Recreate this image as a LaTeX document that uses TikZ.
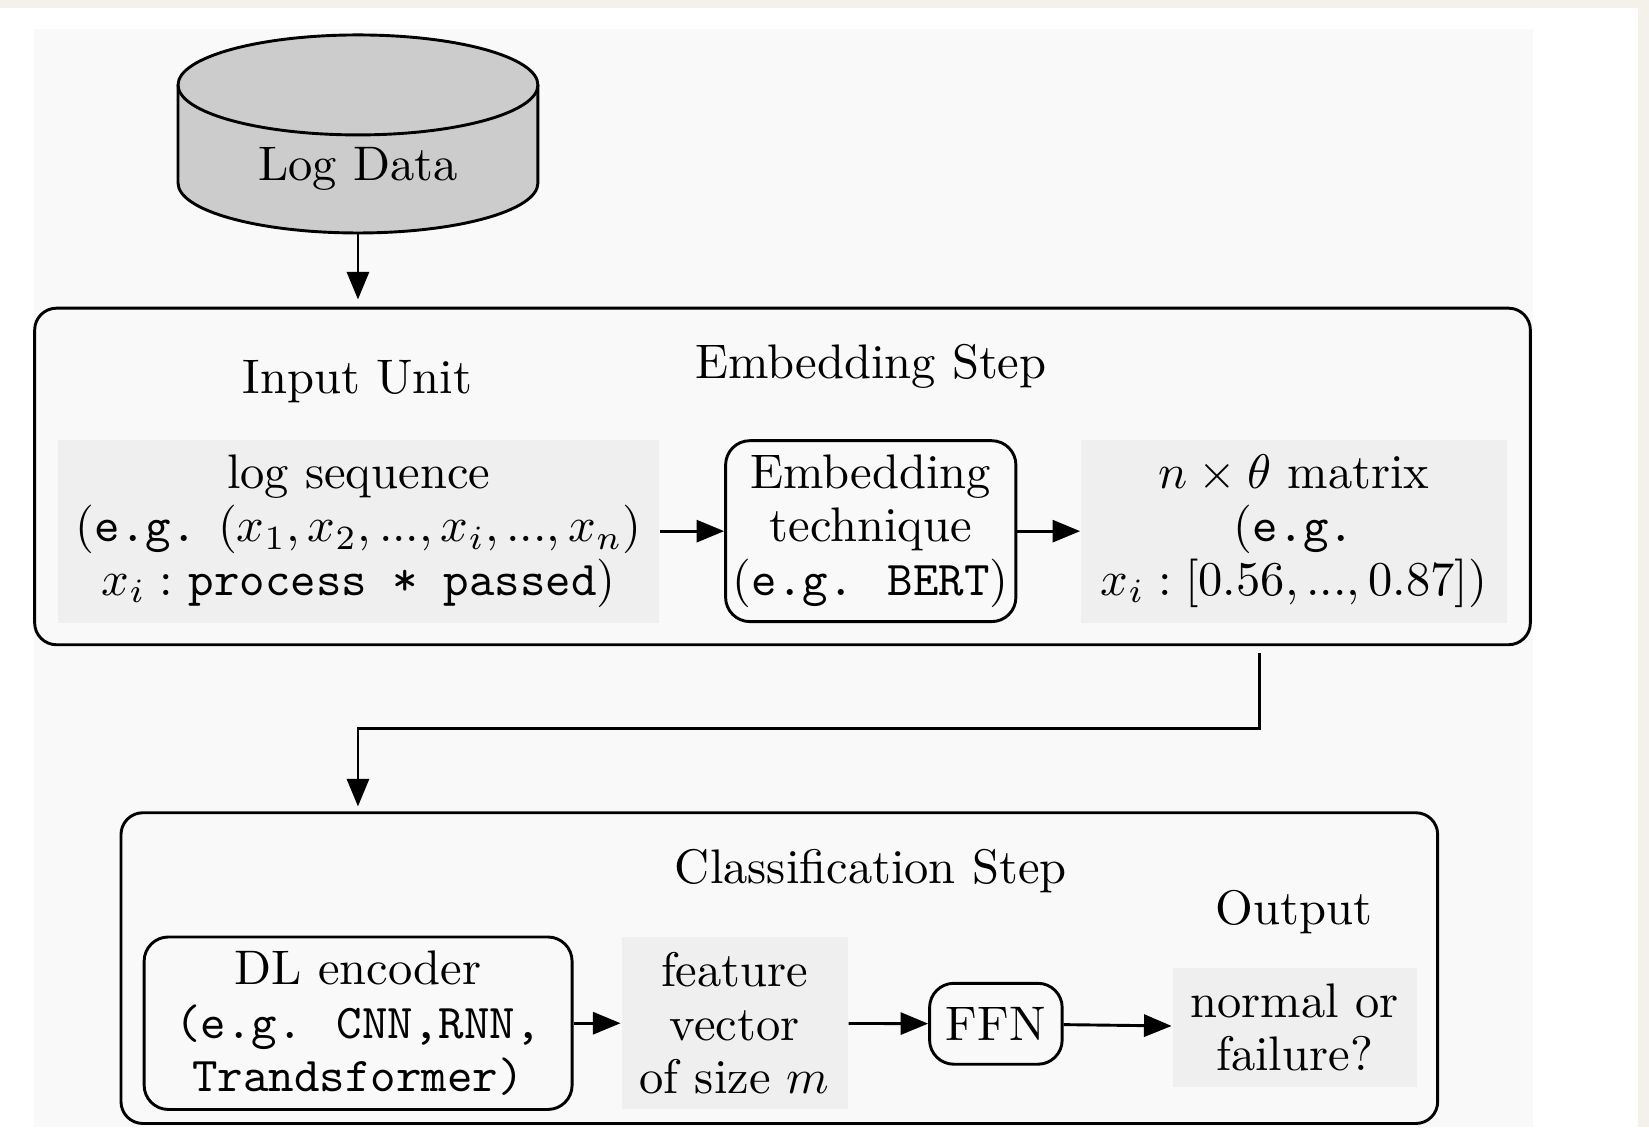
\documentclass[tikz,border=0pt]{standalone}
\usepackage{tikz}
\usetikzlibrary{calc}
\usetikzlibrary{positioning}
\usetikzlibrary{arrows.meta}

\definecolor{pagebg}{RGB}{243,241,234}
\definecolor{panelbg}{RGB}{249,249,249}
\definecolor{shadebg}{RGB}{239,239,239}
\definecolor{dbgray}{RGB}{204,204,204}

\tikzset{
  stepbox/.style={draw,semithick,rounded corners=4.5pt},
  shadebox/.style={fill=shadebg,align=center,inner sep=0pt,font=\fontsize{10}{11}\selectfont},
  techbox/.style={draw,semithick,rounded corners=5pt,align=center,inner sep=0pt,font=\fontsize{10}{11}\selectfont},
  flow/.style={semithick,-{Triangle[length=2mm,width=1.6mm]}},
}

\begin{document}
\begin{tikzpicture}
\fill[pagebg] (0,0) rectangle (11.94,-8.163);
\fill[white] (0,-0.061) rectangle (11.86,-8.163);
\fill[panelbg] (0.244,-0.213) rectangle (11.10,-8.163);
\useasboundingbox (0,0) rectangle (11.94,-8.163);

\def\dbrx{1.303}
\def\dbry{0.362}
\coordinate (dbtop) at (2.592,-0.615);
\coordinate (dbbot) at (2.592,-1.325);
\coordinate (dbout) at ($(dbbot)+(0,-\dbry)$);
\draw[semithick,fill=dbgray] ($(dbtop)+(-\dbrx,0)$) -- ($(dbbot)+(-\dbrx,0)$)
  arc[start angle=180,end angle=360,x radius=\dbrx,y radius=\dbry]
  -- ($(dbtop)+(\dbrx,0)$)
  arc[start angle=0,end angle=180,x radius=\dbrx,y radius=\dbry] -- cycle;
\draw[semithick] ($(dbtop)+(-\dbrx,0)$) arc[start angle=180,end angle=360,x radius=\dbrx,y radius=\dbry];
\node (logdata) at (2.592,-1.22) {Log Data};

\node[stepbox,minimum width=10.83cm,minimum height=2.437cm] (embstep) at (5.666,-3.45) {};
\node[stepbox,minimum width=9.534cm,minimum height=2.25cm] (clsstep) at (5.643,-7.01) {};

\node (inputlbl) at (2.589,-2.764) {Input Unit};
\node (emblbl) at (6.305,-2.65) {Embedding Step};
\node (clslbl) at (6.305,-6.305) {Classification Step};
\node (outlbl) at (9.367,-6.602) {Output};

\node[shadebox,minimum width=4.356cm,minimum height=1.325cm] (logseq) at (2.597,-3.846)
  {log sequence\\(\texttt{e.g.} $(x_1,x_2,...,x_i,...,x_n)$\\$x_i:$ \texttt{process * passed})};
\node[techbox,minimum width=2.102cm,minimum height=1.31cm] (embtech) at (6.305,-3.846)
  {Embedding\\technique\\(\texttt{e.g. BERT})};
\node[shadebox,minimum width=3.084cm,minimum height=1.325cm] (matrix) at (9.37,-3.846)
  {$n\times\theta$ matrix\\(\texttt{e.g.}\\$x_i:[0.56,...,0.87]$)};

\node[techbox,minimum width=3.099cm,minimum height=1.249cm] (encoder) at (2.593,-7.409)
  {DL encoder\\\texttt{(e.g. CNN,RNN,}\\\texttt{Trandsformer)}};
\node[shadebox,minimum width=1.637cm,minimum height=1.249cm] (feature) at (5.319,-7.409)
  {feature\\vector\\of size $m$};
\node[techbox,minimum width=0.96cm,minimum height=0.586cm] (ffn) at (7.211,-7.413) {FFN};
\node[shadebox,minimum width=1.767cm,minimum height=0.868cm] (output) at (9.374,-7.44)
  {normal or\\failure?};

\draw[flow,shorten >=1.5pt] (dbout) -- (dbout |- embstep.north);
\draw[flow] (logseq) -- (embtech);
\draw[flow] (embtech) -- (matrix);
\draw[flow] (encoder) -- (feature);
\draw[flow] (feature) -- (ffn);
\draw[flow] (ffn) -- (output);

\coordinate (turn) at ($(embstep.south)!0.5!(clsstep.north)$);
\draw[flow,shorten >=1pt] ($(embstep.south)+(3.457,-0.05)$) |- (turn) -| (logdata |- clsstep.north);
\end{tikzpicture}
\end{document}
